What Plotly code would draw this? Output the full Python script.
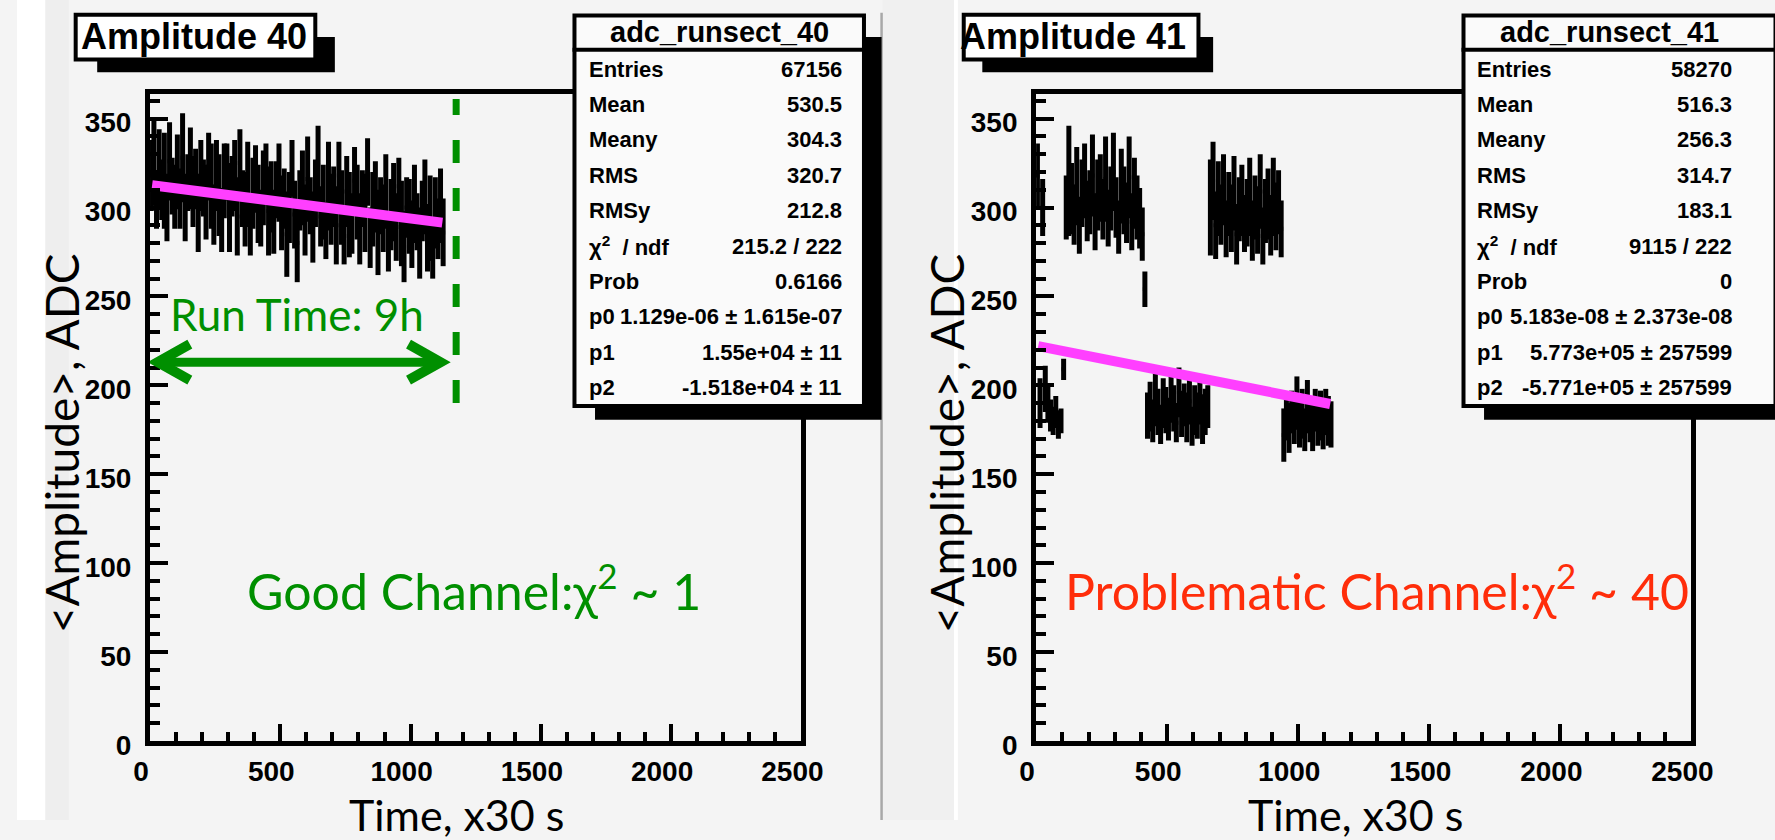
import plotly.graph_objects as go

W, H = 1775, 840

# ---------------- data ----------------
bin_x = list(range(5, 1130, 10))  # profile bin centres, x30 s units (113 bins)

left_mean = [318, 325, 304, 322, 310, 315, 300, 326, 312, 306,
             320, 305, 328, 300, 314, 322, 309, 316, 297, 318,
             311, 303, 323, 312, 296, 318, 307, 293, 315, 320,
             300, 312, 318, 295, 325, 305, 299, 313, 290, 308,
             316, 302, 294, 311, 319, 298, 306, 292, 310, 314,
             297, 305, 285, 300, 322, 296, 280, 304, 311, 293,
             316, 301, 289, 308, 324, 295, 303, 287, 312, 299,
             306, 290, 318, 300, 284, 309, 296, 291, 315, 303,
             288, 305, 297, 320, 283, 299, 306, 286, 301, 294,
             309, 281, 296, 303, 289, 312, 291, 278, 300, 295,
             285, 302, 292, 280, 298, 306, 283, 294, 276, 297,
             288, 301, 286]
left_err = [20, 24, 16, 22, 17, 27, 19, 22, 16, 18,
            21, 17, 25, 19, 16, 23, 20, 17, 22, 20,
            16, 21, 19, 24, 17, 20, 23, 18, 21, 16,
            25, 17, 20, 22, 19, 16, 21, 24, 17, 20,
            19, 22, 16, 21, 17, 25, 20, 18, 16, 22,
            21, 17, 24, 20, 16, 19, 22, 17, 21, 20,
            24, 16, 20, 19, 22, 17, 21, 16, 25, 20,
            17, 22, 19, 21, 16, 20, 24, 17, 19, 21,
            20, 16, 22, 19, 17, 21, 20, 24, 16, 19,
            21, 17, 20, 22, 19, 16, 24, 20, 17, 21,
            19, 22, 16, 20, 17, 21, 19, 24, 16, 20,
            17, 21, 19]

right_mean = [318, 190, 300, 198, 190, 183, 180, 185, 178, 180, 209,
              300, 315, 305, 296, 312, 290, 308, 315, 298, 303,
              318, 292, 307, 311, 299, 316, 294, 305, 320, 300,
              289, 312, 304, 297, 317, 292, 308, 300, 294, 285,
              254,
              183, 188, 180, 192, 185, 178, 190, 186, 181, 194, 187, 179,
              196, 184, 189, 182, 191, 177, 186, 183, 190, 181, 185, 188,
              300, 315, 290, 305, 296, 310, 288, 302, 294, 308, 285, 299, 304, 291,
              297, 306, 287, 300, 293, 309, 284, 298, 302, 290, 306, 295, 303, 288,
              172, 182, 176, 185, 180, 190, 178, 184, 175, 188,
              181, 177, 186, 179, 183, 176, 185, 180, 178]
right_err = [18, 14, 16, 13, 11, 9, 8, 9, 8, 7, 6,
             18, 31, 20, 17, 22, 16, 19, 21, 17, 18,
             23, 16, 20, 19, 17, 24, 16, 18, 22, 17,
             15, 21, 19, 17, 23, 16, 20, 18, 17, 15,
             10,
             13, 14, 12, 15, 13, 11, 14, 13, 12, 15, 13, 11,
             14, 13, 12, 14, 13, 11, 14, 13, 12, 14, 13, 12,
             27, 22, 19, 21, 17, 20, 16, 18, 19, 21, 17, 18, 20, 16,
             19, 22, 17, 18, 19, 21, 16, 18, 20, 17, 22, 19, 18, 16,
             15, 13, 14, 12, 13, 15, 13, 14, 12, 15,
             13, 14, 12, 13, 14, 12, 13, 14, 13]

fit_x = [8, 1122]
fit_left_y = [312.5, 291.5]
fit_right_y = [222.0, 189.5]

run_start, run_end = 30, 1115      # arrow ends (x30 s)
run_arrow_y = 213
run_mark_x = 1175                  # dashed end-of-run marker
run_mark_y = [190, 361]

x_ticks = [0, 500, 1000, 1500, 2000, 2500]
y_ticks = [0, 50, 100, 150, 200, 250, 300, 350]

stat_labels = ["Entries", "Mean", "Meany", "RMS", "RMSy",
               "χ<sup>2</sup>  / ndf",
               "Prob", "p0", "p1", "p2"]
stats_left = ["67156", "530.5", "304.3", "320.7", "212.8", "215.2 / 222",
              "0.6166", "1.129e-06 ± 1.615e-07", "1.55e+04 ± 11", "-1.518e+04 ± 11"]
stats_right = ["58270", "516.3", "256.3", "314.7", "183.1", "9115 / 222",
               "0", "5.183e-08 ± 2.373e-08", "5.773e+05 ± 257599", "-5.771e+05 ± 257599"]

# ---------------- helpers ----------------
def px(x):
    return x / W

def py(y):
    return 1 - y / H

BG = "#f4f4f4"
GREEN = "#008f00"
RED = "#ff2d0a"
MAGENTA = "#ff3fff"
HELV = "Liberation Sans, Arial, sans-serif"
TICKFONT = dict(family=HELV, size=28, color="black", weight="bold")
GILL = "Lato, 'Open Sans', sans-serif"

fig = go.Figure()

for xa, ya, mean, err, fity in [("x", "y", left_mean, left_err, fit_left_y),
                                ("x2", "y2", right_mean, right_err, fit_right_y)]:
    fig.add_trace(go.Scatter(
        x=bin_x, y=mean, xaxis=xa, yaxis=ya, mode="markers",
        marker=dict(size=4, color="black", symbol="square"),
        error_y=dict(type="data", array=err, visible=True, thickness=5, width=0, color="black"),
        showlegend=False, hoverinfo="skip"))
    fig.add_trace(go.Scatter(
        x=fit_x, y=fity, xaxis=xa, yaxis=ya, mode="lines",
        line=dict(color=MAGENTA, width=10), showlegend=False, hoverinfo="skip"))

axis_common = dict(showline=True, linecolor="black", linewidth=5, mirror=True,
                   showgrid=False, zeroline=False, ticks="inside", tickcolor="black",
                   tickfont=TICKFONT)

xcommon = dict(axis_common, range=[0, 2500], tickvals=x_ticks, ticklen=17, tickwidth=4,
               ticklabelshift=-9, ticklabelstandoff=1,
               minor=dict(ticks="inside", dtick=100, ticklen=9, tickwidth=3.5,
                          tickcolor="black", showgrid=False))
ycommon = dict(axis_common, range=[0, 364], tickvals=y_ticks, ticklen=18, tickwidth=4,
               ticklabelshift=4, ticklabelstandoff=8,
               minor=dict(ticks="inside", dtick=10, ticklen=10, tickwidth=3.5,
                          tickcolor="black", showgrid=False))

ydom = [py(759), py(96)]
fig.update_layout(
    width=W, height=H, autosize=False,
    margin=dict(l=0, r=0, t=0, b=0),
    paper_bgcolor=BG, plot_bgcolor="rgba(0,0,0,0)",
    xaxis=dict(xcommon, domain=[px(136), px(802)], anchor="y"),
    yaxis=dict(ycommon, domain=ydom, anchor="x"),
    xaxis2=dict(xcommon, domain=[px(1042), px(1712)], anchor="y2"),
    yaxis2=dict(ycommon, domain=ydom, anchor="x2"),
)

shapes = []
# canvas / pad background strips
shapes.append(dict(type="rect", xref="paper", yref="paper", x0=0, x1=px(29), y0=0, y1=1,
                   fillcolor="white", line=dict(width=0), layer="below"))
shapes.append(dict(type="rect", xref="paper", yref="paper", x0=px(29), x1=px(53), y0=0, y1=1,
                   fillcolor="#eeeeee", line=dict(width=0), layer="below"))
shapes.append(dict(type="rect", xref="paper", yref="paper", x0=px(885), x1=px(958), y0=0, y1=1,
                   fillcolor="#f0f0f0", line=dict(width=0), layer="below"))
shapes.append(dict(type="rect", xref="paper", yref="paper", x0=px(958), x1=px(962), y0=0, y1=1,
                   fillcolor="white", line=dict(width=0), layer="below"))
shapes.append(dict(type="line", xref="paper", yref="paper", x0=px(884), x1=px(884), y0=0, y1=py(13),
                   line=dict(color="#a8a8a8", width=2.5), layer="below"))

def boxed(x0, y0, x1, y1, sx0, sy0, sx1, sy1, fill):
    shapes.append(dict(type="rect", xref="paper", yref="paper",
                       x0=px(sx0), x1=px(sx1), y0=py(sy1), y1=py(sy0),
                       fillcolor="black", line=dict(width=0), layer="above"))
    shapes.append(dict(type="rect", xref="paper", yref="paper",
                       x0=px(x0 + 2), x1=px(x1 - 2), y0=py(y1 - 2), y1=py(y0 + 2),
                       fillcolor=fill, line=dict(color="black", width=4), layer="above"))

# title boxes
boxed(58, 13, 307, 63, 82, 38, 325, 74, "white")
boxed(966, 13, 1210, 63, 987, 38, 1223, 74, "white")
# stats boxes
boxed(568, 14, 868, 418, 591, 38, 884, 430, "#fafafa")
boxed(1477, 14, 1800, 418, 1500, 38, 1810, 430, "#fafafa")
for bx0, bx1 in [(568, 868), (1477, 1800)]:
    shapes.append(dict(type="line", xref="paper", yref="paper", x0=px(bx0), x1=px(bx1),
                       y0=py(51), y1=py(51), line=dict(color="black", width=4), layer="above"))

# run time marker and arrow (left panel, data coordinates)
shapes.append(dict(type="line", xref="x", yref="y", x0=run_mark_x, x1=run_mark_x,
                   y0=run_mark_y[0], y1=run_mark_y[1],
                   line=dict(color=GREEN, width=7, dash="23px,25px")))
shapes.append(dict(type="line", xref="x", yref="y", x0=run_start, x1=run_end,
                   y0=run_arrow_y, y1=run_arrow_y, line=dict(color=GREEN, width=9)))
for anchor, sgn in [(run_start, 1), (run_end, -1)]:
    shapes.append(dict(type="path", xref="x", yref="y", xsizemode="pixel", ysizemode="pixel",
                       xanchor=anchor, yanchor=run_arrow_y,
                       path=f"M {sgn*32},18 L 0,0 L {sgn*32},-18",
                       line=dict(color=GREEN, width=10)))
fig.update_layout(shapes=shapes)

anns = []
def ann(text, x, y, size, color="black", family=HELV,
        weight="normal", xanchor="center", yanchor="middle", angle=0):
    anns.append(dict(text=text, x=px(x), y=py(y), xref="paper", yref="paper",
                     xanchor=xanchor, yanchor=yanchor, showarrow=False, textangle=angle,
                     font=dict(family=family, size=size, color=color, weight=weight)))

# titles
ann("Amplitude 40", 181, 37, 36, weight="bold")
ann("Amplitude 41", 1080, 37, 36, weight="bold")
# stats
for lx, vx, cx, vals, name in [(583, 846, 718, stats_left, "adc_runsect_40"),
                               (1491, 1756, 1628, stats_right, "adc_runsect_41")]:
    ann(name, cx, 33, 29, weight="bold")
    for i, (lab, val) in enumerate(zip(stat_labels, vals)):
        yy = 71 + 36.2 * i
        ann(lab, lx, yy, 22, weight="bold", xanchor="left")
        ann(val, vx, yy, 22, weight="bold", xanchor="right")

# axis titles
ann("&lt;Amplitude&gt;, ADC", 45, 454, 46, family=GILL, angle=-90)
ann("&lt;Amplitude&gt;, ADC", 950, 454, 46, family=GILL, angle=-90)
ann("Time, x30 s", 449, 834, 43, family=GILL)
ann("Time, x30 s", 1369, 834, 43, family=GILL)

# commentary
ann("Run Time: 9h", 286, 322, 44, color=GREEN, family=GILL)
ann("Good Channel:χ<sup>2</sup> ~ 1", 467, 602, 50, color=GREEN, family=GILL)
ann("Problematic Channel:χ<sup>2</sup> ~ 40", 1391, 602, 50, color=RED, family=GILL)

fig.update_layout(annotations=anns)
fig.write_html("out.html")
